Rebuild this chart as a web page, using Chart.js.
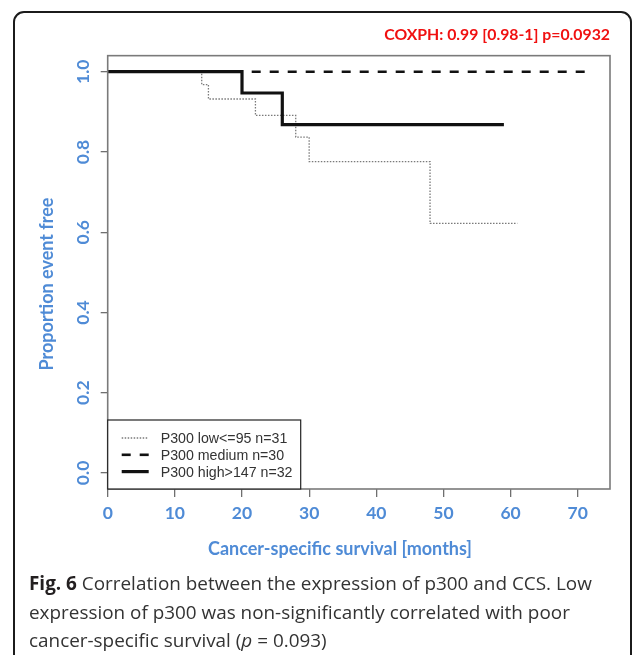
<!DOCTYPE html>
<html>
<head>
<meta charset="utf-8">
<script src="https://cdn.jsdelivr.net/npm/chart.js@4"></script>
<style>
  html, body { margin: 0; padding: 0; background: #fff; overflow: hidden; }
  body { width: 636px; height: 655px; position: relative; }
  .frame {
    position: absolute; left: 13px; top: 11px; width: 619px; height: 720px;
    border: 2px solid #1b1b1b; border-radius: 11px; box-sizing: border-box;
  }
  .chart-box { position: absolute; left: 0; top: 0; width: 636px; height: 570px; }
  .caption {
    position: absolute; left: 29px; top: 569px; width: 600px;
    font-family: 'Open Sans', sans-serif; font-size: 18.9px; line-height: 28.5px;
    color: #333; white-space: nowrap;
  }
  .caption b { font-weight: 700; color: #231f20; }
</style>
</head>
<body>
<div class="frame"></div>
<div class="chart-box"><canvas id="km" width="636" height="570"></canvas></div>
<div class="caption">
  <b>Fig. 6</b> Correlation between the expression of p300 and CCS. Low<br>
  expression of p300 was non-significantly correlated with poor<br>
  cancer-specific survival (<i>p</i> = 0.093)
</div>

<script>
// ── Data ────────────────────────────────────────────────────────
const lowTimes  = [0, 14, 15, 22, 28, 30, 48, 61];
const lowSurv   = [1, 0.968, 0.932, 0.891, 0.837, 0.776, 0.622, 0.622];
const medTimes  = [0, 71.5];
const medSurv   = [1, 1];
const highTimes = [0, 20, 26, 59];
const highSurv  = [1, 0.947, 0.868, 0.868];

const seriesLabels = ['P300 low<=95 n=31', 'P300 medium n=30', 'P300 high>147 n=32'];
const xTicks      = [0, 10, 20, 30, 40, 50, 60, 70];
const yTicks      = [0, 0.2, 0.4, 0.6, 0.8, 1.0];
const yTickLabels = ['0.0', '0.2', '0.4', '0.6', '0.8', '1.0'];
const xTitle = 'Cancer-specific survival [months]';
const yTitle = 'Proportion event free';

const BLUE = '#4f8bd6';
const FONT = "Lato, 'Open Sans', sans-serif";

const toPoints = (xs, ys) => xs.map((x, i) => ({ x, y: ys[i] }));

// kotak plot + label/judul sumbu + legenda di pojok kiri bawah
const plotExtras = {
  id: 'plotExtras',
  afterDraw(chart) {
    const { ctx, chartArea: a } = chart;
    const yScale = chart.scales.y;

    ctx.save();
    ctx.strokeStyle = '#7a7a7a';
    ctx.lineWidth = 1.6;
    ctx.strokeRect(a.left, a.top, a.right - a.left, a.bottom - a.top);

    // label sumbu y, vertikal
    ctx.fillStyle = BLUE;
    ctx.font = `bold 17.5px ${FONT}`;
    ctx.textAlign = 'center';
    ctx.textBaseline = 'middle';
    yTicks.forEach((v, i) => {
      const py = yScale.getPixelForValue(v);
      ctx.save();
      ctx.translate(83, py);
      ctx.rotate(-Math.PI / 2);
      ctx.fillText(yTickLabels[i], 0, 0);
      ctx.restore();
    });

    // judul sumbu (posisinya tidak persis di tengah area plot)
    ctx.font = `bold 18px ${FONT}`;
    ctx.fillText(xTitle, 340, 549);
    ctx.save();
    ctx.translate(47, 284);
    ctx.rotate(-Math.PI / 2);
    ctx.fillText(yTitle, 0, 0);
    ctx.restore();

    // legenda
    const lx = a.left, ly = 420, lw = 193, lh = a.bottom - 420;
    ctx.fillStyle = '#fff';
    ctx.fillRect(lx, ly, lw, lh);
    ctx.strokeStyle = '#222';
    ctx.lineWidth = 1.2;
    ctx.strokeRect(lx, ly, lw, lh);

    ctx.font = "14.2px 'Liberation Sans', Arial, sans-serif";
    ctx.textAlign = 'left';
    ctx.textBaseline = 'middle';
    chart.data.datasets.forEach((ds, i) => {
      const rowY = 438 + i * 16.8;
      ctx.save();
      ctx.strokeStyle = ds.borderColor;
      ctx.lineWidth = ds.borderWidth;
      ctx.setLineDash(ds.borderDash || []);
      ctx.beginPath();
      ctx.moveTo(lx + 14, rowY);
      ctx.lineTo(lx + 41, rowY);
      ctx.stroke();
      ctx.restore();
      ctx.fillStyle = '#333';
      ctx.fillText(ds.label, lx + 53, rowY + 1);
    });
    ctx.restore();
  },
};

new Chart(document.getElementById('km'), {
  type: 'line',
  data: {
    datasets: [
      {
        label: seriesLabels[0],
        data: toPoints(lowTimes, lowSurv),
        borderColor: '#7a7a7a',
        borderWidth: 1.3,
        borderDash: [1.5, 1.5],
        stepped: 'before',
        pointRadius: 0,
        order: 2,
      },
      {
        label: seriesLabels[1],
        data: toPoints(medTimes, medSurv),
        borderColor: '#111',
        borderWidth: 2.6,
        borderDash: [9, 9],
        stepped: 'before',
        pointRadius: 0,
        order: 1,
      },
      {
        label: seriesLabels[2],
        data: toPoints(highTimes, highSurv),
        borderColor: '#111',
        borderWidth: 3.2,
        stepped: 'before',
        pointRadius: 0,
        order: 0,
      },
    ],
  },
  options: {
    responsive: false,
    animation: false,
    layout: { padding: { left: 0, right: 26, top: 0, bottom: 0 } },
    plugins: {
      legend:  { display: false },
      tooltip: { enabled: false },
      title: {
        display: true,
        text: 'COXPH: 0.99 [0.98-1] p=0.0932',
        align: 'end',
        color: '#f01010',
        font: { family: FONT, size: 15.8, weight: 'bold', lineHeight: 1.2 },
        padding: { top: 25.5, bottom: 11.2 },
      },
    },
    scales: {
      x: {
        type: 'linear',
        min: 0,
        max: 74.8,
        afterBuildTicks: (s) => { s.ticks = xTicks.map((v) => ({ value: v })); },
        afterFit: (s) => { s.height = 81; },
        border: { display: false },
        grid: { drawOnChartArea: false, drawTicks: true, tickLength: 8, color: '#6f6f6f', lineWidth: 1.3 },
        ticks: { color: BLUE, font: { family: FONT, size: 17.5, weight: 'bold' }, padding: 6, maxRotation: 0 },
      },
      y: {
        type: 'linear',
        min: -0.04,
        max: 1.04,
        afterBuildTicks: (s) => { s.ticks = yTicks.map((v) => ({ value: v })); },
        afterFit: (s) => { s.width = 107.7; },
        border: { display: false },
        grid: { drawOnChartArea: false, drawTicks: true, tickLength: 7, color: '#6f6f6f', lineWidth: 1.3 },
        ticks: { color: 'rgba(0,0,0,0)', font: { family: FONT, size: 16, weight: 'bold' } },
      },
    },
  },
  plugins: [plotExtras],
});
</script>
</body>
</html>
